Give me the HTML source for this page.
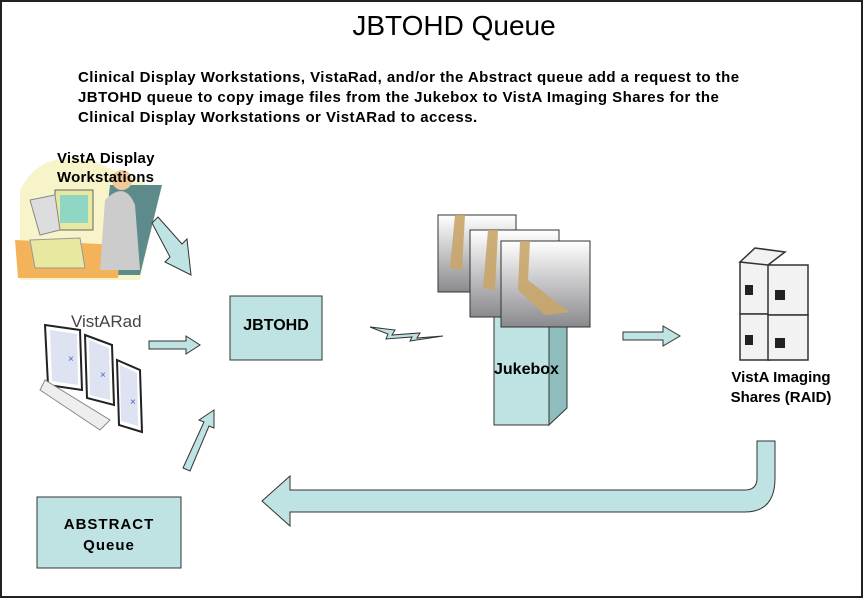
<!DOCTYPE html>
<html><head><meta charset="utf-8"><style>
body{margin:0;background:#fff;}
.w{position:relative;width:864px;height:599px;overflow:hidden;font-family:"Liberation Sans",Arial,sans-serif;}
.t{position:absolute;white-space:nowrap;}
</style></head><body><div class="w">
<svg width="864" height="599" style="position:absolute;left:0;top:0">
<rect x="1" y="1" width="861" height="596" fill="#fff" stroke="#222" stroke-width="2"/>
<path d="M20 190 Q40 150 90 160 L160 190 L140 280 L20 280 Z" fill="#f6f4c8"/>
<path d="M110 185 L162 185 L140 275 L100 275 Z" fill="#5d8b8c"/>
<path d="M15 240 L120 245 L118 278 L18 278 Z" fill="#f3b35a"/>
<rect x="55" y="190" width="38" height="40" fill="#e8e8a0" stroke="#666"/>
<rect x="60" y="195" width="28" height="28" fill="#8fd6c4"/>
<path d="M30 200 L55 195 L60 230 L40 235 Z" fill="#ddd" stroke="#888"/>
<path d="M30 240 L80 238 L85 268 L35 268 Z" fill="#e8e8a0" stroke="#999"/>
<path d="M105 200 Q125 180 135 205 L140 270 L100 270 Z" fill="#ccc"/>
<circle cx="122" cy="180" r="10" fill="#f0c89a"/>
<g stroke="#222" stroke-width="2" fill="#fff">
<path d="M45 325 L80 330 L82 390 L48 385 Z"/><path d="M85 335 L112 345 L114 405 L87 398 Z"/><path d="M117 360 L140 370 L142 432 L119 425 Z"/>
<path d="M40 390 L45 380 L110 420 L100 430 Z" fill="#eee" stroke="#888" stroke-width="1"/>
</g>
<g fill="#dde3f0"><path d="M50 330 L77 334 L78 385 L52 381 Z"/><path d="M89 340 L109 348 L110 400 L90 395 Z"/><path d="M120 365 L137 373 L138 426 L121 421 Z"/></g>
<g fill="#55c" font-size="10" font-family="Liberation Sans"><text x="68" y="362">×</text><text x="100" y="378">×</text><text x="130" y="405">×</text></g>
<g fill="#bfe2e3" stroke="#333" stroke-width="1">
<polygon points="152,223 158,217 182,244 187,239 191,275 165,262 170,257"/>
<polygon points="149,341 186,341 186,336 200,345 186,354 186,349 149,349"/>
<polygon points="183,468 204,422 199,420 214,410 214,428 209,426 190,471"/>
<polygon points="623,332 663,332 663,326 680,336 663,346 663,340 623,340"/>
<polygon points="370,327 395,330 392,335 420,333 417,338 443,336 410,341 412,337 386,339 388,334"/>
</g>
<rect x="230" y="296" width="92" height="64" fill="#bfe2e3" stroke="#333"/>
<rect x="37" y="497" width="144" height="71" fill="#bfe2e3" stroke="#333"/>
<polygon points="549,327 567,310 567,408 549,425" fill="#8fbcbd" stroke="#333"/>
<rect x="494" y="300" width="55" height="125" fill="#bfe2e3" stroke="#333"/>
<defs><linearGradient id="g" x1="0" y1="0" x2="0" y2="1"><stop offset="0" stop-color="#fff"/><stop offset="1" stop-color="#8a8a8e"/></linearGradient></defs>
<g stroke="#333">
<rect x="438" y="215" width="78" height="77" fill="url(#g)"/>
<rect x="470" y="230" width="89" height="87" fill="url(#g)"/>
<rect x="501" y="241" width="89" height="86" fill="url(#g)"/>
</g>
<g fill="#c9a66a" opacity=".9"><path d="M455 215 L465 215 L462 270 L450 268 Z"/><path d="M488 230 L498 230 L495 290 L483 288 Z"/><path d="M520 241 L530 241 L528 280 L560 305 L570 312 L545 315 L518 290 Z"/></g>
<g stroke="#333" stroke-width="1.5" fill="#f2f2f2">
<rect x="740" y="262" width="30" height="52"/><rect x="740" y="314" width="30" height="46"/>
<rect x="768" y="265" width="40" height="50"/><rect x="768" y="315" width="40" height="45"/>
<polygon points="740,262 755,248 785,252 768,265"/>
</g>
<g fill="#222"><rect x="745" y="285" width="8" height="10"/><rect x="775" y="290" width="10" height="10"/><rect x="745" y="335" width="8" height="10"/><rect x="775" y="338" width="10" height="10"/></g>
<path d="M757 441 L775 441 L775 478 Q775 512 745 512 L290 512 L290 526 L262 501 L290 476 L290 490 L745 490 Q757 490 757 478 Z" fill="#bfe2e3" stroke="#333"/>
</svg>
<div class="t" style="left:0;width:908px;text-align:center;top:10px;font-size:28px;">JBTOHD Queue</div>
<div class="t" style="left:78px;top:68px;font-size:15px;letter-spacing:0.45px;font-weight:bold;line-height:20px;">Clinical Display Workstations, VistaRad, and/or the Abstract queue add a request to the<br>JBTOHD queue to copy image files from the Jukebox to VistA Imaging Shares for the<br>Clinical Display Workstations or VistARad to access.</div>
<div class="t" style="left:57px;top:149px;font-size:15px;letter-spacing:0.2px;font-weight:bold;line-height:19px;">VistA Display<br>Workstations</div>
<div class="t" style="left:71px;top:312px;font-size:17px;color:#444;">VistARad</div>
<div class="t" style="left:230px;width:92px;text-align:center;top:317px;font-size:16px;font-weight:bold;">JBTOHD</div>
<div class="t" style="left:494px;top:361px;font-size:16px;font-weight:bold;">Jukebox</div>
<div class="t" style="left:711px;width:140px;text-align:center;top:368px;font-size:15px;font-weight:bold;line-height:20px;">VistA Imaging<br>Shares (RAID)</div>
<div class="t" style="left:37px;width:144px;text-align:center;top:514px;font-size:15px;letter-spacing:1px;font-weight:bold;line-height:21px;">ABSTRACT<br>Queue</div>
</div></body></html>
